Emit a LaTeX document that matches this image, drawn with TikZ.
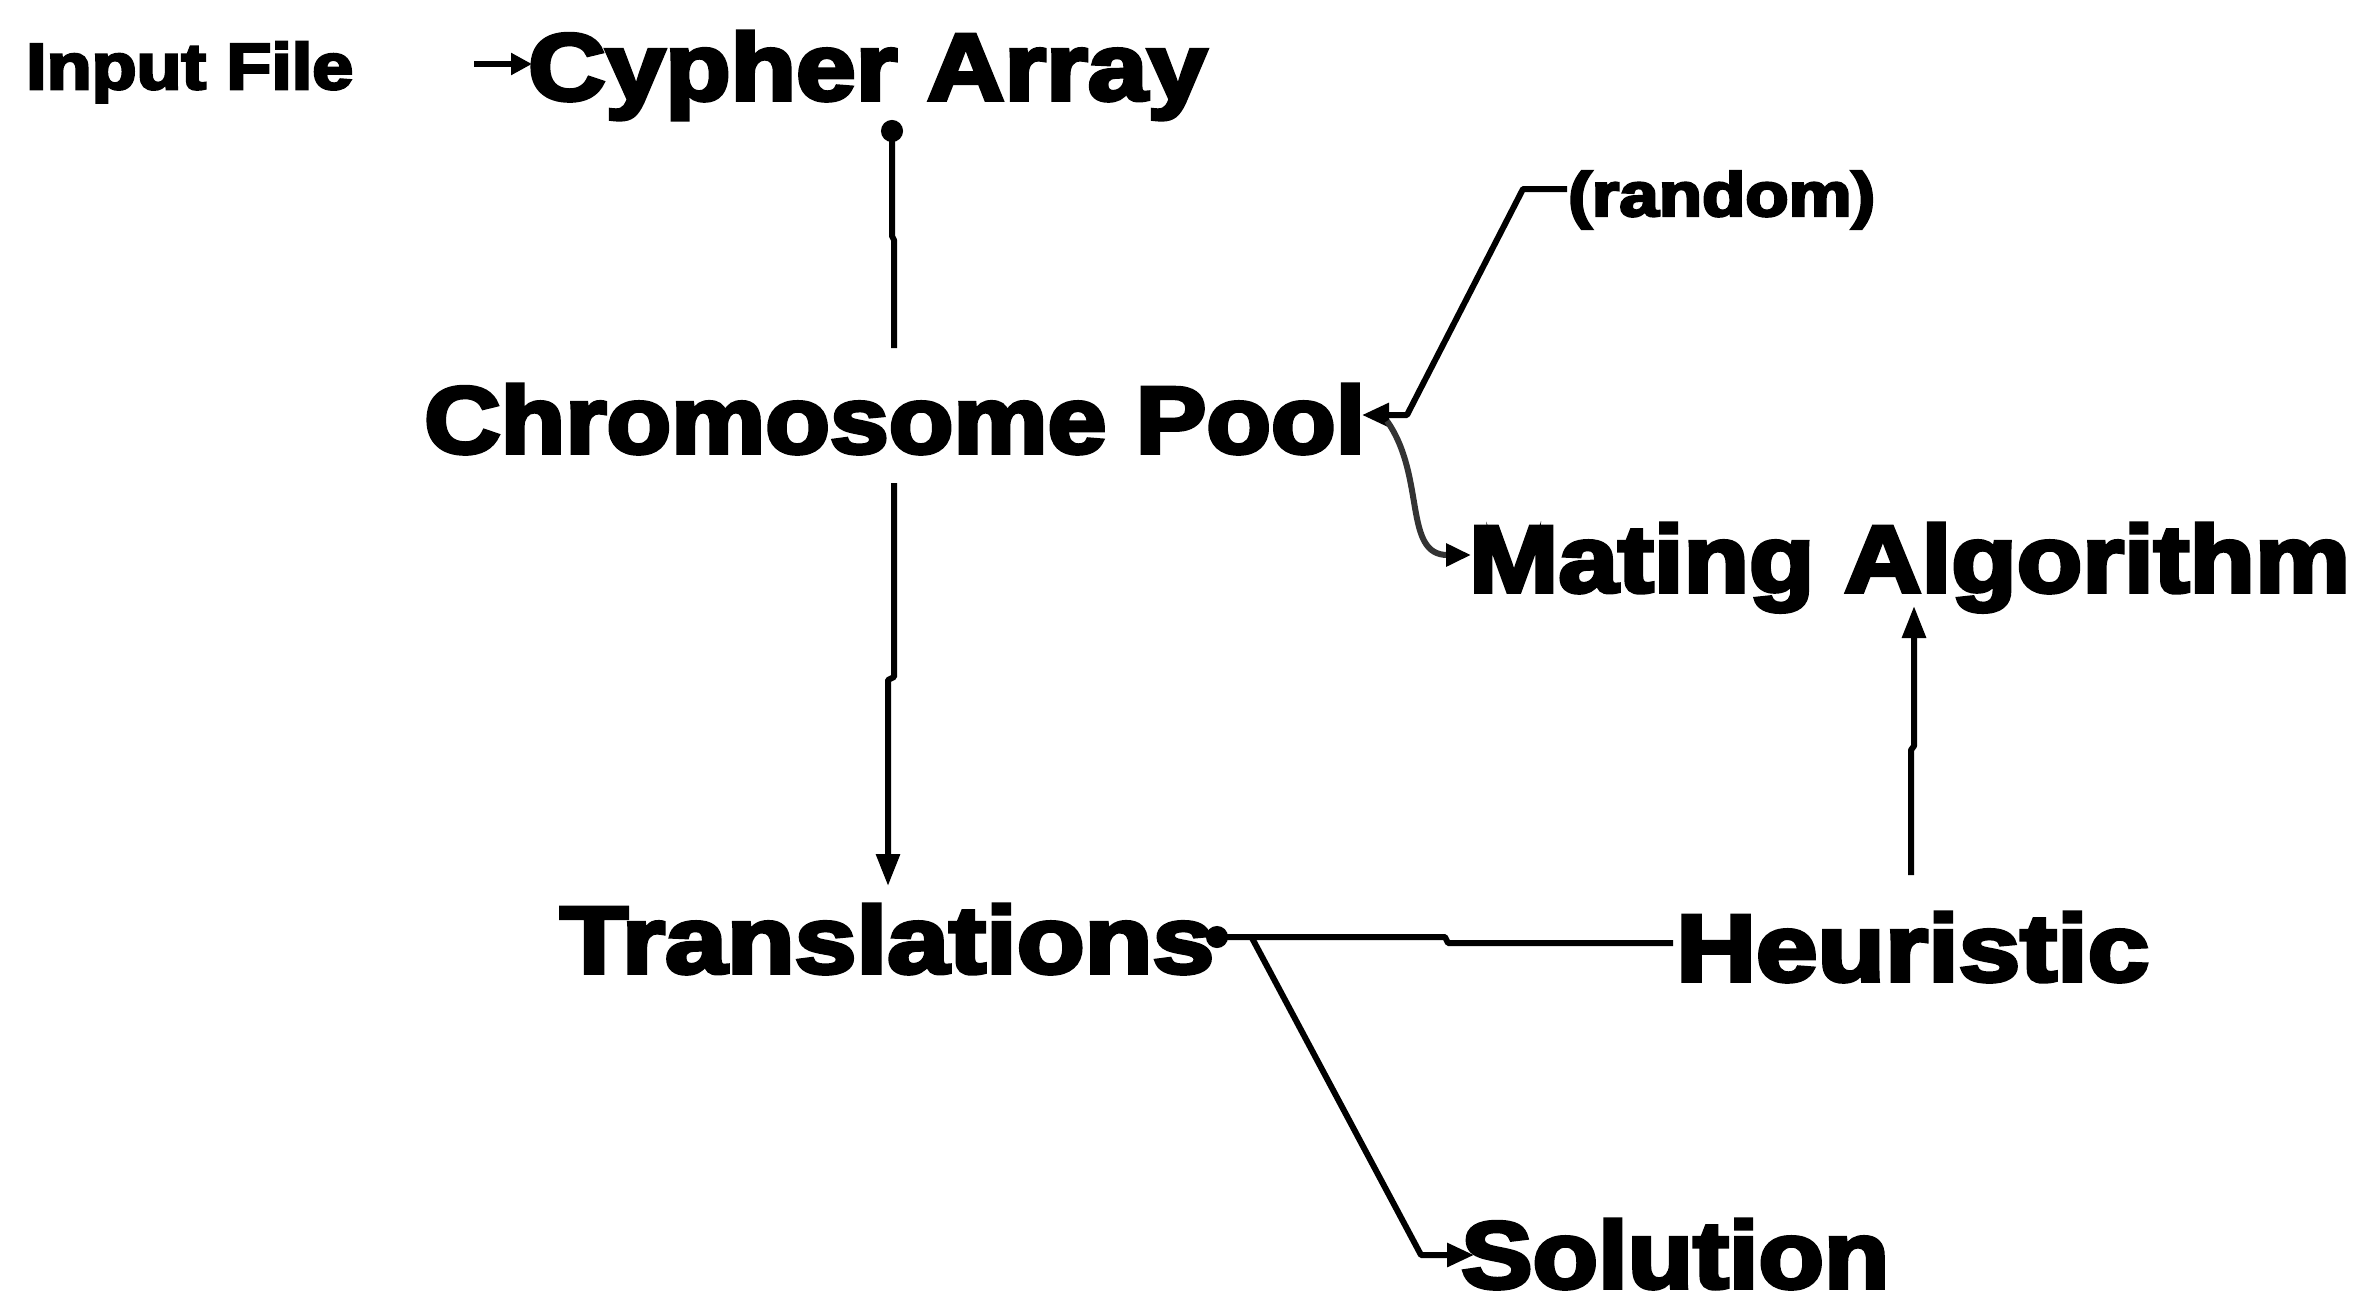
\documentclass[tikz,border=0pt]{standalone}
\usepackage{fontspec}
\setmainfont{Liberation Sans}[BoldFeatures={FakeBold=4}]
\usetikzlibrary{arrows.meta}
\newsavebox\lblbox
\newcommand\fitw[3]{%
  \sbox\lblbox{\fontsize{#2}{#2}\selectfont\bfseries #3}%
  \scalebox{\fpeval{#1/(\the\wd\lblbox)}}[1]{\usebox\lblbox}}
\begin{document}
\begin{tikzpicture}[x=1pt,y=-1pt,
  lbl/.style={inner sep=0pt, anchor=base west},
  ln/.style={line width=6pt, line join=round},
  tipbig/.style={-{Triangle[length=32pt,width=23pt]}},
  tipmid/.style={-{Triangle[length=27pt,width=23pt]}},
  dotstart/.style={{Circle[length=22pt,width=22pt]}-}]
\fill[white] (0,0) rectangle (2370,1301);
\useasboundingbox (0,0) rectangle (2370,1301);

% labels
\node[lbl] (input)  at (26,89)    {\fitw{327}{65}{Input File}};
\node[lbl] (cypher) at (528,100)  {\fitw{679}{95}{Cypher Array}};
\node[lbl] (random) at (1568,216) {\fitw{307}{62}{(random)}};
\node[lbl] (pool)   at (424,453)  {\fitw{941}{95}{Chromosome Pool}};
\node[lbl] (mating) at (1469,592) {\fitw{881}{95}{Mating Algorithm}};
\node[lbl] (trans)  at (560,973)  {\fitw{654}{95}{Translations}};
\node[lbl] (heur)   at (1676,981) {\fitw{473}{95}{Heuristic}};
\node[lbl] (sol)    at (1461,1288){\fitw{428}{95}{Solution}};

% connector points
\coordinate (i0) at (474,64);
\coordinate (i1) at (532,64);
\coordinate (c0) at (892,120);
\coordinate (c1) at (892,236);
\coordinate (c2) at (894,240);
\coordinate (c3) at (894,348);
\coordinate (p0) at (894,483);
\coordinate (p1) at (894,677);
\coordinate (p2) at (888,680);
\coordinate (p3) at (888,886);
\coordinate (h0) at (1911,875);
\coordinate (h1) at (1911,750);
\coordinate (h2) at (1914,746);
\coordinate (h3) at (1914,606);
\coordinate (r0) at (1567,189);
\coordinate (r1) at (1523,189);
\coordinate (r2) at (1407,415);
\coordinate (r3) at (1362,415);
\coordinate (m0) at (1387,421);
\coordinate (m1) at (1471,555);
\coordinate (t0) at (1206,937);
\coordinate (t1) at (1445,937);
\coordinate (t2) at (1448,943);
\coordinate (t3) at (1673,943);
\coordinate (s0) at (1252,938);
\coordinate (s1) at (1421,1255);
\coordinate (s2) at (1474,1255);

% connectors
\draw[line width=5.5pt,-{Triangle[length=21pt,width=21pt]}] (i0) -- (i1);
\draw[ln,dotstart] (c0) -- (c1) -- (c2) -- (c3);
\draw[ln,tipbig] (p0) -- (p1) -- (p2) -- (p3);
\draw[ln,tipbig] (h0) -- (h1) -- (h2) -- (h3);
\draw[ln,tipmid] (r0) -- (r1) -- (r2) -- (r3);
\draw[line width=6pt,black!80,-{Triangle[length=25pt,width=22pt,color=black]}]
  (m0) to[out=-55,in=180,looseness=1.1] (m1);
\draw[ln,dotstart] (t0) -- (t1) -- (t2) -- (t3);
\draw[ln,tipmid] (s0) -- (s1) -- (s2);
\end{tikzpicture}
\end{document}
